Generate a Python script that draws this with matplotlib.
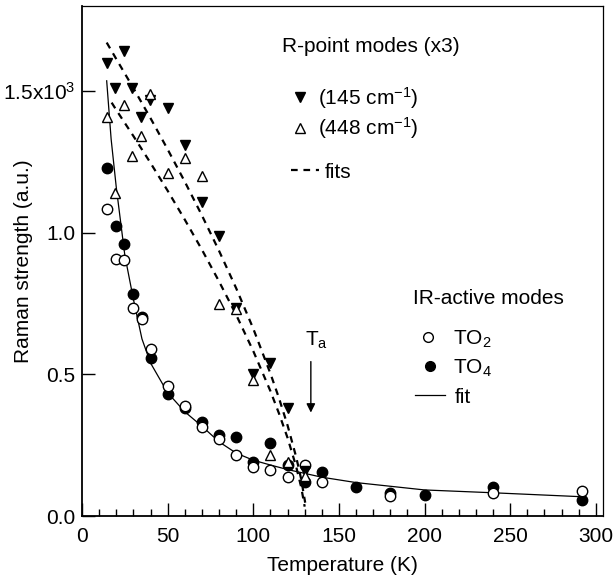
import matplotlib
matplotlib.use("Agg")
import matplotlib.pyplot as plt
from matplotlib.lines import Line2D
from matplotlib.ticker import MultipleLocator, FixedLocator, FixedFormatter

plt.rcParams['font.family'] = ['Liberation Sans', 'DejaVu Sans']
plt.rcParams['mathtext.fontset'] = 'custom'
plt.rcParams['mathtext.rm'] = 'Liberation Sans'
plt.rcParams['mathtext.it'] = 'Liberation Sans:italic'
plt.rcParams['mathtext.default'] = 'regular'

# ---------------- data (values in units of 10^3) ----------------
# R-point modes (x3)
t_145 = [14.3, 19.5, 24.3, 29.3, 34.3, 39.5, 50, 60, 70, 80, 90, 100, 110, 120, 130]
s_145 = [1.60, 1.51, 1.64, 1.51, 1.41, 1.47, 1.44, 1.31, 1.11, 0.99, 0.735, 0.50, 0.54, 0.38, 0.16]

t_448 = [14.3, 19.5, 24.3, 29.3, 34.3, 39.5, 50, 60, 70, 80, 90, 100, 110, 120, 130]
s_448 = [1.41, 1.14, 1.45, 1.27, 1.34, 1.49, 1.21, 1.265, 1.20, 0.75, 0.73, 0.48, 0.215, 0.19, 0.14]

# dashed fits of the R-point modes
fit145_t = [14.4, 20, 30, 40, 50, 60, 70, 80, 90, 100, 110, 115, 120, 125, 128, 130.3]
fit145_s = [1.671, 1.613, 1.510, 1.404, 1.294, 1.180, 1.061, 0.936, 0.804, 0.661,
            0.503, 0.416, 0.320, 0.209, 0.129, 0.047]
fit448_t = [17.3, 20, 30, 40, 50, 60, 70, 80, 90, 100, 110, 115, 120, 125, 128, 130]
fit448_s = [1.459, 1.433, 1.341, 1.246, 1.148, 1.046, 0.940, 0.828, 0.710, 0.582,
            0.441, 0.362, 0.276, 0.175, 0.101, 0.033]

# IR-active modes
t_to2 = [14.3, 19.7, 24.5, 30, 35, 40, 50, 60, 70, 80, 90, 100, 110, 120, 130, 140, 180, 240, 292]
s_to2 = [1.084, 0.908, 0.902, 0.734, 0.695, 0.589, 0.459, 0.388, 0.313, 0.272, 0.215,
         0.174, 0.164, 0.136, 0.180, 0.120, 0.071, 0.080, 0.089]

t_to4 = [14.3, 19.9, 24.7, 30, 35, 40, 50, 60, 70, 80, 90, 100, 110, 120, 130, 140,
         160, 180, 200, 240, 292]
s_to4 = [1.229, 1.025, 0.961, 0.783, 0.704, 0.556, 0.431, 0.380, 0.331, 0.286, 0.280,
         0.191, 0.259, 0.180, 0.121, 0.156, 0.101, 0.082, 0.074, 0.103, 0.056]

# solid fit of the IR-active modes
fitir_t = [14.4, 17, 20, 25, 30, 35, 40, 50, 60, 70, 80, 90, 100, 110, 120, 140, 160,
           180, 200, 240, 292]
fitir_s = [1.536, 1.33, 1.16, 0.92, 0.765, 0.625, 0.54, 0.435, 0.368, 0.317, 0.262,
           0.222, 0.197, 0.180, 0.164, 0.137, 0.118, 0.105, 0.092, 0.082, 0.068]

ta_t = 133.6   # transition temperature marker position

y_ticks = [0.0, 0.5, 1.0, 1.5]
y_labels = ['0.0', '0.5', '1.0', '1.5x10$^3$']

# ---------------- figure ----------------
fig = plt.figure(figsize=(6.13, 5.83), dpi=100)
ax = fig.add_axes([0.1338, 0.1149, 0.8494, 0.8748])

ax.plot(fit145_t, fit145_s, color='black', lw=1.6, dashes=(3, 2.6), zorder=2)
ax.plot(fit448_t, fit448_s, color='black', lw=1.6, dashes=(3, 2.6), zorder=2)
ax.plot(fitir_t, fitir_s, color='black', lw=0.9, zorder=2)

ax.plot(t_to4, s_to4, 'o', ms=7.5, mfc='black', mec='black', mew=1, ls='none', zorder=3)
ax.plot(t_to2, s_to2, 'o', ms=7.5, mfc='white', mec='black', mew=1, ls='none', zorder=3)
ax.plot(t_145, s_145, 'v', ms=7.5, mfc='black', mec='black', mew=1, ls='none', zorder=4)
ax.plot(t_448, s_448, '^', ms=7.5, mfc='white', mec='black', mew=1, ls='none', zorder=4)

ax.set_xlim(0, 304)
ax.set_ylim(0, 1.8)

ax.xaxis.set_major_locator(MultipleLocator(50))
ax.xaxis.set_minor_locator(MultipleLocator(10))
ax.yaxis.set_major_locator(FixedLocator(y_ticks))
ax.yaxis.set_major_formatter(FixedFormatter(y_labels))
ax.tick_params(axis='x', which='major', direction='in', length=9.5, width=1, labelsize=15, pad=8)
ax.tick_params(axis='x', which='minor', direction='in', length=5, width=1)
ax.tick_params(axis='y', which='major', direction='in', length=9.5, width=1, labelsize=15, pad=5)

for side in ['left', 'bottom']:
    ax.spines[side].set_linewidth(1.3)
for side in ['top', 'right']:
    ax.spines[side].set_linewidth(0.9)

ax.set_xlabel('Temperature (K)', fontsize=15, labelpad=7)
ax.set_ylabel('Raman strength (a.u.)', fontsize=15)
ax.yaxis.set_label_coords(-0.094, 0.5)

# T_a arrow
ax.annotate('', xy=(ta_t, 0.365), xytext=(ta_t, 0.545),
            arrowprops=dict(arrowstyle='-|>', color='black', lw=1, mutation_scale=13,
                            shrinkA=0, shrinkB=0))
ax.text(130.1, 0.60, 'T$_a$', fontsize=15, ha='left', va='baseline')

# ---------------- legend annotations ----------------
tr = ax.transAxes
fs = 15
ax.text(0.3846, 0.9097, 'R-point modes (x3)', transform=tr, fontsize=fs, va='baseline')
ax.add_line(Line2D([0.4187], [0.8215], transform=tr, marker='v', ms=6.5, mfc='black',
                   mec='black', ls='none'))
ax.text(0.4533, 0.8068, '(145 cm$^{-1}$)', transform=tr, fontsize=fs, va='baseline')
ax.add_line(Line2D([0.4187], [0.7605], transform=tr, marker='^', ms=6.5, mfc='white',
                   mec='black', mew=1, ls='none'))
ax.text(0.4533, 0.7468, '(448 cm$^{-1}$)', transform=tr, fontsize=fs, va='baseline')
ax.add_line(Line2D([0.4014, 0.4544], [0.6782, 0.6782], transform=tr, color='black',
                   lw=1.6, dashes=(3, 2.6)))
ax.text(0.4667, 0.6636, 'fits', transform=tr, fontsize=fs, va='baseline')

ax.text(0.6357, 0.4164, 'IR-active modes', transform=tr, fontsize=fs, va='baseline')
ax.add_line(Line2D([0.6645], [0.3510], transform=tr, marker='o', ms=7, mfc='white',
                   mec='black', mew=1, ls='none'))
ax.text(0.7122, 0.3360, 'TO$_2$', transform=tr, fontsize=fs, va='baseline')
ax.add_line(Line2D([0.6683], [0.2938], transform=tr, marker='o', ms=7, mfc='black',
                   mec='black', ls='none'))
ax.text(0.7122, 0.2791, 'TO$_4$', transform=tr, fontsize=fs, va='baseline')
ax.add_line(Line2D([0.6395, 0.6971], [0.2370, 0.2370], transform=tr, color='black', lw=0.9))
ax.text(0.7157, 0.2222, 'fit', transform=tr, fontsize=fs, va='baseline')

fig.savefig('out.png', dpi=100)
